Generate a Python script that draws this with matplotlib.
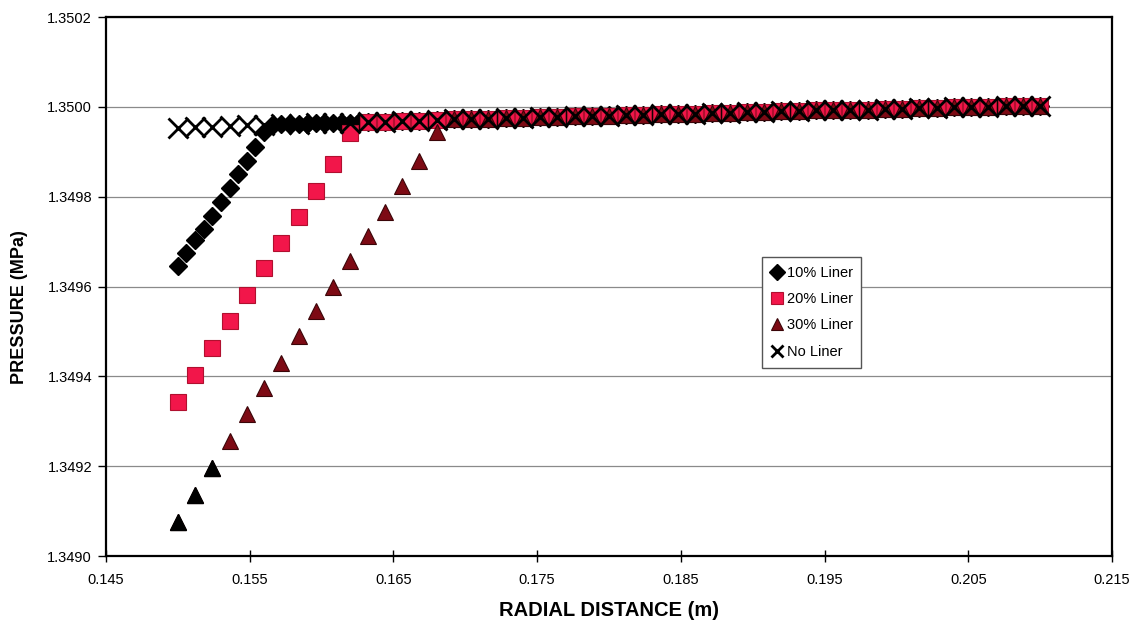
import numpy as np
import matplotlib
matplotlib.use('Agg')
import matplotlib.pyplot as plt

plt.rcParams['font.family'] = ['Liberation Sans', 'DejaVu Sans']

# radial positions (m): the 10% liner series is sampled twice as finely
r_fine = np.round(0.150 + 0.0006 * np.arange(101), 4)
r_coarse = np.round(0.150 + 0.0012 * np.arange(51), 4)

# pressure (MPa)
p_10 = [1.349645, 1.349675, 1.349703, 1.349729, 1.349757, 1.349789, 1.349820, 1.349850, 1.349880, 1.349910, 1.349945,
        1.349960, 1.349961, 1.349961, 1.349962, 1.349962, 1.349963, 1.349964, 1.349964, 1.349965, 1.349965,
        1.349966, 1.349966, 1.349967, 1.349967, 1.349968, 1.349968, 1.349969, 1.349969, 1.349970, 1.349971,
        1.349971, 1.349972, 1.349972, 1.349973, 1.349973, 1.349974, 1.349974, 1.349975, 1.349975, 1.349976,
        1.349976, 1.349977, 1.349977, 1.349978, 1.349978, 1.349979, 1.349979, 1.349980, 1.349980, 1.349981,
        1.349981, 1.349982, 1.349982, 1.349982, 1.349983, 1.349983, 1.349984, 1.349984, 1.349985, 1.349985,
        1.349986, 1.349986, 1.349987, 1.349987, 1.349988, 1.349988, 1.349989, 1.349989, 1.349989, 1.349990,
        1.349990, 1.349991, 1.349991, 1.349992, 1.349992, 1.349993, 1.349993, 1.349994, 1.349994, 1.349994,
        1.349995, 1.349995, 1.349996, 1.349996, 1.349997, 1.349997, 1.349997, 1.349998, 1.349998, 1.349999,
        1.349999, 1.350000, 1.350000, 1.350000, 1.350001, 1.350001, 1.350002, 1.350002, 1.350003, 1.350003]

p_20 = [1.349343, 1.349404, 1.349464, 1.349523, 1.349582, 1.349641, 1.349697, 1.349755, 1.349812, 1.349873, 1.349941,
        1.349966, 1.349967, 1.349968, 1.349969, 1.349970, 1.349972, 1.349973, 1.349974, 1.349975, 1.349976,
        1.349977, 1.349978, 1.349979, 1.349980, 1.349980, 1.349981, 1.349982, 1.349983, 1.349984, 1.349985,
        1.349986, 1.349987, 1.349988, 1.349989, 1.349990, 1.349991, 1.349992, 1.349993, 1.349994, 1.349994,
        1.349995, 1.349996, 1.349997, 1.349998, 1.349999, 1.350000, 1.350000, 1.350001, 1.350002, 1.350003]

p_30 = [1.349076, 1.349136, 1.349195, 1.349256, 1.349316, 1.349373, 1.349430, 1.349489, 1.349545, 1.349600, 1.349657,
        1.349712, 1.349767, 1.349823, 1.349880, 1.349943, 1.349972, 1.349973, 1.349974, 1.349975, 1.349976,
        1.349977, 1.349978, 1.349979, 1.349980, 1.349980, 1.349981, 1.349982, 1.349983, 1.349984, 1.349985,
        1.349986, 1.349987, 1.349988, 1.349989, 1.349990, 1.349991, 1.349992, 1.349993, 1.349994, 1.349994,
        1.349995, 1.349996, 1.349997, 1.349998, 1.349999, 1.350000, 1.350000, 1.350001, 1.350002, 1.350003]

p_none = [1.349954, 1.349955, 1.349956, 1.349957, 1.349959, 1.349960, 1.349961, 1.349962, 1.349963, 1.349964, 1.349965,
          1.349966, 1.349967, 1.349968, 1.349969, 1.349970, 1.349972, 1.349973, 1.349974, 1.349975, 1.349976,
          1.349977, 1.349978, 1.349979, 1.349980, 1.349980, 1.349981, 1.349982, 1.349983, 1.349984, 1.349985,
          1.349986, 1.349987, 1.349988, 1.349989, 1.349990, 1.349991, 1.349992, 1.349993, 1.349994, 1.349994,
          1.349995, 1.349996, 1.349997, 1.349998, 1.349999, 1.350000, 1.350000, 1.350001, 1.350002, 1.350003]

x_ticks = [0.145, 0.155, 0.165, 0.175, 0.185, 0.195, 0.205, 0.215]
y_ticks = [1.3490, 1.3492, 1.3494, 1.3496, 1.3498, 1.3500, 1.3502]

fig = plt.figure(figsize=(11.38, 6.26), dpi=100)
ax = fig.add_axes([0.0931, 0.1118, 0.8841, 0.861])

ax.plot(r_fine, p_10, 'D', color='black', ms=9.5, mec='black', label='10% Liner', zorder=3)
ax.plot(r_coarse, p_20, 's', color='#f2164a', ms=11, mec='#b0102f', mew=0.8, label='20% Liner', zorder=4)
ax.plot(r_coarse, p_30, '^', color='#7d0a14', ms=12, mec='#3a0508', mew=0.8, label='30% Liner', zorder=5)
# the lowest triangles come out black in the scan
ax.plot(r_coarse[:3], p_30[:3], '^', color='black', ms=12, zorder=5)
ax.plot(r_coarse, p_none, 'x', color='black', ms=15, mew=2, label='No Liner', zorder=6)

ax.set_xlim(0.145, 0.215)
ax.set_ylim(1.3490, 1.3502)
ax.set_xticks(x_ticks)
ax.set_yticks(y_ticks)
ax.set_xticklabels([f'{v:.3f}' for v in x_ticks], fontsize=10.5)
ax.set_yticklabels([f'{v:.4f}' for v in y_ticks], fontsize=10.5)
ax.tick_params(axis='y', direction='out', length=6, width=1, pad=4)
ax.tick_params(axis='x', direction='inout', length=8, width=1, pad=8)

ax.yaxis.grid(True, color='#8a8a8a', lw=0.9)
ax.set_axisbelow(True)
for s in ax.spines.values():
    s.set_linewidth(1.6)
    s.set_color('black')

ax.set_xlabel('RADIAL DISTANCE (m)', fontsize=14.5, fontweight='bold', labelpad=10)
ax.set_ylabel('PRESSURE (MPa)', fontsize=13, fontweight='bold')
ax.yaxis.set_label_coords(-0.077, 0.462)

leg = ax.legend(loc='upper left', bbox_to_anchor=(0.652, 0.555), borderaxespad=0,
                fontsize=10.5, fancybox=False, framealpha=1, edgecolor='#555555',
                handlelength=0.8, handletextpad=0.3, labelspacing=0.85, borderpad=0.6)
leg.get_frame().set_linewidth(1)
for h in leg.legend_handles:
    h.set_markersize(8)

fig.savefig('out.png', dpi=100)
